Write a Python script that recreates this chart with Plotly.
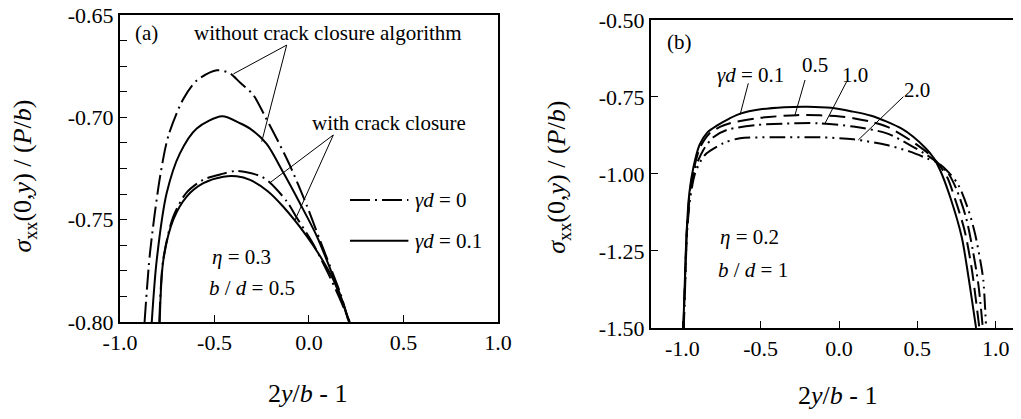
import plotly.graph_objects as go

# ---------------- data: panel (a) ----------------
a_without_g0_x = [-0.870, -0.841, -0.788, -0.744, -0.665, -0.594, -0.488, -0.418, -0.365, -0.295, -0.230, -0.162, -0.101, -0.012, 0.058, 0.129, 0.170, 0.210]
a_without_g0_y = [-0.800, -0.766, -0.729, -0.709, -0.691, -0.682, -0.677, -0.6785, -0.683, -0.689, -0.700, -0.712, -0.7235, -0.743, -0.760, -0.777, -0.787, -0.800]

a_without_g01_x = [-0.832, -0.806, -0.753, -0.683, -0.594, -0.460, -0.365, -0.312, -0.224, -0.136, -0.048, 0.041, 0.129, 0.170, 0.212]
a_without_g01_y = [-0.800, -0.770, -0.737, -0.7176, -0.7054, -0.6995, -0.7029, -0.7055, -0.713, -0.727, -0.742, -0.758, -0.778, -0.788, -0.800]

a_with_g0_x = [-0.792, -0.772, -0.720, -0.650, -0.560, -0.453, -0.390, -0.330, -0.250, -0.206, -0.118, -0.065, 0.023, 0.100, 0.160, 0.215]
a_with_g0_y = [-0.800, -0.770, -0.749, -0.737, -0.7305, -0.7275, -0.7262, -0.7268, -0.729, -0.732, -0.741, -0.749, -0.762, -0.776, -0.788, -0.800]

a_with_g01_x = [-0.790, -0.771, -0.718, -0.647, -0.559, -0.453, -0.383, -0.312, -0.220, -0.136, -0.012, 0.060, 0.129, 0.215]
a_with_g01_y = [-0.800, -0.770, -0.750, -0.7387, -0.7322, -0.729, -0.7288, -0.7306, -0.736, -0.7437, -0.758, -0.768, -0.7794, -0.800]

a_xticks = [-1.0, -0.5, 0.0, 0.5, 1.0]
a_xticklabels = ["-1.0", "-0.5", "0.0", "0.5", "1.0"]
a_yticks = [-0.65, -0.70, -0.75, -0.80]
a_yticklabels = ["-0.65", "-0.70", "-0.75", "-0.80"]

# ---------------- data: panel (b) ----------------
b_g01_x = [-0.994, -0.985, -0.973, -0.955, -0.930, -0.890, -0.840, -0.780, -0.700, -0.630, -0.500, -0.350, -0.200, -0.050, 0.090, 0.200, 0.305, 0.400, 0.474, 0.550, 0.600, 0.645, 0.709, 0.783, 0.826, 0.875]
b_g01_y = [-1.500, -1.360, -1.190, -1.060, -0.980, -0.905, -0.865, -0.843, -0.820, -0.804, -0.790, -0.783, -0.7815, -0.785, -0.7976, -0.810, -0.830, -0.853, -0.879, -0.915, -0.945, -0.987, -1.074, -1.204, -1.333, -1.500]

b_g05_x = [-0.993, -0.984, -0.972, -0.953, -0.925, -0.888, -0.830, -0.760, -0.696, -0.526, -0.270, -0.121, 0.006, 0.091, 0.200, 0.305, 0.453, 0.581, 0.634, 0.690, 0.740, 0.800, 0.845, 0.896]
b_g05_y = [-1.500, -1.360, -1.190, -1.060, -0.980, -0.915, -0.870, -0.847, -0.835, -0.819, -0.809, -0.8095, -0.813, -0.819, -0.830, -0.846, -0.8896, -0.938, -0.967, -1.010, -1.080, -1.180, -1.300, -1.500]

b_g10_x = [-0.992, -0.983, -0.971, -0.952, -0.925, -0.866, -0.800, -0.717, -0.526, -0.270, -0.121, 0.091, 0.305, 0.453, 0.560, 0.634, 0.700, 0.750, 0.810, 0.855, 0.890, 0.918]
b_g10_y = [-1.500, -1.360, -1.190, -1.070, -0.990, -0.922, -0.880, -0.857, -0.841, -0.8354, -0.8354, -0.846, -0.868, -0.906, -0.938, -0.966, -1.000, -1.050, -1.140, -1.250, -1.360, -1.500]

b_g20_x = [-0.991, -0.982, -0.970, -0.950, -0.920, -0.880, -0.845, -0.738, -0.632, -0.419, -0.121, 0.091, 0.305, 0.453, 0.560, 0.634, 0.700, 0.762, 0.826, 0.868, 0.905, 0.921, 0.939]
b_g20_y = [-1.500, -1.360, -1.190, -1.080, -1.000, -0.955, -0.933, -0.900, -0.884, -0.881, -0.881, -0.8875, -0.906, -0.9275, -0.949, -0.965, -0.995, -1.036, -1.117, -1.193, -1.290, -1.344, -1.500]

b_xticks = [-1.0, -0.5, 0.0, 0.5, 1.0]
b_xticklabels = ["-1.0", "-0.5", "0.0", "0.5", "1.0"]
b_yticks = [-0.50, -0.75, -1.00, -1.25, -1.50]
b_yticklabels = ["-0.50", "-0.75", "-1.00", "-1.25", "-1.50"]

FONT = "Liberation Serif, Times New Roman, serif"
TICKSIZE = 22
ANNSIZE = 21
TITLESIZE = 26

DASHDOT_A = "20px,5px,2px,5px"
LONGDASH = "16px,7px"
DASHDOT_B = "16px,5px,2px,5px"
DASHDOTDOT = "16px,5px,2px,5px,2px,5px"

fig = go.Figure()

def add(x, y, dash, xa, ya):
    fig.add_trace(go.Scatter(x=x, y=y, mode="lines", xaxis=xa, yaxis=ya,
                             line=dict(color="black", width=2, dash=dash, shape="spline", smoothing=0.8),
                             showlegend=False, hoverinfo="skip"))

add(a_without_g0_x, a_without_g0_y, DASHDOT_A, "x", "y")
add(a_without_g01_x, a_without_g01_y, "solid", "x", "y")
add(a_with_g0_x, a_with_g0_y, DASHDOT_A, "x", "y")
add(a_with_g01_x, a_with_g01_y, "solid", "x", "y")

add(b_g01_x, b_g01_y, "solid", "x2", "y2")
add(b_g05_x, b_g05_y, LONGDASH, "x2", "y2")
add(b_g10_x, b_g10_y, DASHDOT_B, "x2", "y2")
add(b_g20_x, b_g20_y, DASHDOTDOT, "x2", "y2")

shapes = []
def seg(x0, y0, x1, y1, xr, yr, w=1, dash="solid"):
    shapes.append(dict(type="line", x0=x0, y0=y0, x1=x1, y1=y1, xref=xr, yref=yr,
                       line=dict(color="black", width=w, dash=dash)))

# leader lines panel (a)
seg(-0.118, -0.6647, -0.400, -0.6788, "x", "y")
seg(-0.118, -0.6647, -0.250, -0.7119, "x", "y")
seg(0.129, -0.7086, -0.206, -0.7319, "x", "y")
seg(0.129, -0.7086, -0.074, -0.7502, "x", "y")
# legend sample lines panel (a)
seg(0.217, -0.7404, 0.526, -0.7404, "x", "y", 2, DASHDOT_A)
seg(0.217, -0.7603, 0.526, -0.7603, "x", "y", 2, "solid")
# leader lines panel (b)
seg(-0.579, -0.7056, -0.632, -0.8084, "x2", "y2")
seg(-0.217, -0.6948, -0.281, -0.8084, "x2", "y2")
seg(0.049, -0.700, -0.089, -0.8354, "x2", "y2")
seg(0.411, -0.749, 0.123, -0.8896, "x2", "y2")

ann = []
def txt(text, x, y, xr, yr, xanchor="left", size=ANNSIZE, **kw):
    ann.append(dict(text=text, x=x, y=y, xref=xr, yref=yr, xanchor=xanchor, yanchor="middle",
                    showarrow=False, font=dict(family=FONT, size=size, color="black"), **kw))

txt("(a)", -0.933, -0.6588, "x", "y")
txt("without crack closure algorithm", 0.098, -0.6588, "x", "y", xanchor="center")
txt("with crack closure", 0.422, -0.7027, "x", "y", xanchor="center")
txt("<i>γd</i> = 0", 0.552, -0.7404, "x", "y")
txt("<i>γd</i> = 0.1", 0.552, -0.7603, "x", "y")
txt("<i>η</i> = 0.3", -0.524, -0.768, "x", "y")
txt("<i>b</i> / <i>d</i> = 0.5", -0.540, -0.7832, "x", "y")

txt("(b)", -1.111, -0.570, "x2", "y2")
txt("<i>γd</i> = 0.1", -0.792, -0.6786, "x2", "y2")
txt("0.5", -0.153, -0.646, "x2", "y2", xanchor="center")
txt("1.0", 0.102, -0.6786, "x2", "y2", xanchor="center")
txt("2.0", 0.496, -0.727, "x2", "y2", xanchor="center")
txt("<i>η</i> = 0.2", -0.771, -1.2035, "x2", "y2")
txt("<i>b</i> / <i>d</i> = 1", -0.785, -1.3117, "x2", "y2")

ytitle = "<i>σ</i><sub>xx</sub>(0,<i>y</i>) / (<i>P</i>/<i>b</i>)"
txt(ytitle, 0.01567, 0.600, "paper", "paper", xanchor="center", size=TITLESIZE, textangle=-90)
txt(ytitle, 0.5387, 0.595, "paper", "paper", xanchor="center", size=TITLESIZE, textangle=-90)
txt("2<i>y</i>/<i>b</i> - 1", 0.2929, 0.0811, "paper", "paper", xanchor="center", size=TITLESIZE)
txt("2<i>y</i>/<i>b</i> - 1", 0.8129, 0.074, "paper", "paper", xanchor="center", size=TITLESIZE)

axis_common = dict(showgrid=False, zeroline=False, showline=True, linecolor="black", linewidth=2,
                   ticks="inside", ticklen=7, tickwidth=1, tickcolor="black",
                   ticklabeloverflow="allow",
                   tickfont=dict(family=FONT, size=TICKSIZE, color="black"), automargin=False)

fig.update_layout(
    width=1021, height=419,
    margin=dict(l=0, r=0, t=0, b=0),
    paper_bgcolor="white", plot_bgcolor="white",
    xaxis=dict(domain=[0.1097, 0.4799], range=[-1, 1], tickvals=a_xticks, ticktext=a_xticklabels,
               mirror=True, anchor="y", **axis_common),
    yaxis=dict(domain=[0.2506, 0.9833], range=[-0.80, -0.65], tickvals=a_yticks, ticktext=a_yticklabels,
               mirror=True, anchor="x",
               minor=dict(dtick=0.0125, tick0=-0.65, ticks="inside", ticklen=7, tickwidth=1, tickcolor="black"),
               **axis_common),
    xaxis2=dict(domain=[0.6298, 0.9922], range=[-1.2, 1.162], tickvals=b_xticks, ticktext=b_xticklabels,
                mirror=True, anchor="y2", **axis_common),
    yaxis2=dict(domain=[0.2363, 0.9714], range=[-1.5, -0.5], tickvals=b_yticks, ticktext=b_yticklabels,
                mirror=False, anchor="x2", **axis_common),
    shapes=shapes, annotations=ann,
)

fig.write_html("out.html")
